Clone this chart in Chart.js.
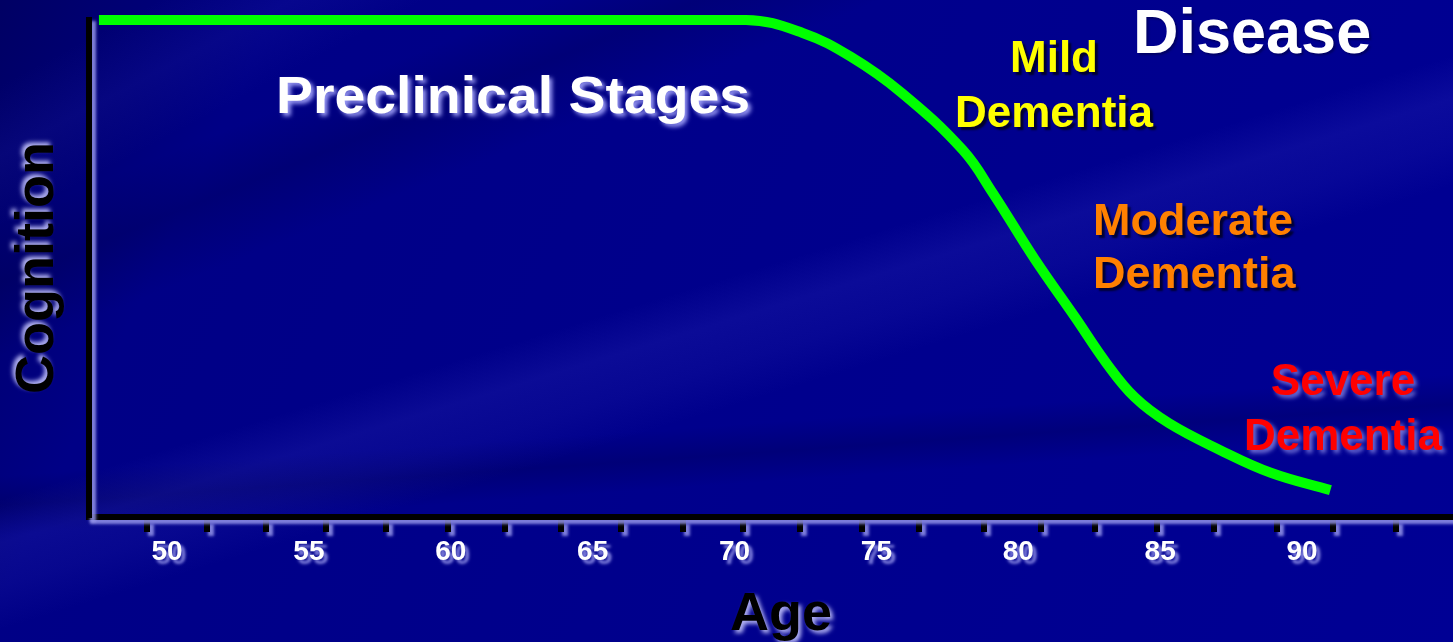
<!DOCTYPE html>
<html>
<head>
<meta charset="utf-8">
<script src="https://cdn.jsdelivr.net/npm/chart.js@4/dist/chart.umd.min.js"></script>
<style>
  html, body { margin: 0; padding: 0; }
  body {
    width: 1453px; height: 642px; overflow: hidden; position: relative;
    font-family: "Liberation Sans", Arial, sans-serif; font-weight: bold;
    background:
      linear-gradient(163deg, transparent 0%, transparent 46%, rgba(70,70,210,0.16) 50%, rgba(70,70,210,0.10) 54%, transparent 58%),
      linear-gradient(158deg, transparent 0%, transparent 18%, rgba(0,0,40,0.18) 23%, transparent 29%, transparent 100%),
      linear-gradient(176deg, transparent 0%, transparent 64%, rgba(0,0,50,0.22) 68%, transparent 72%),
      linear-gradient(152deg, transparent 0%, transparent 6%, rgba(40,40,180,0.16) 11%, transparent 16%),
      linear-gradient(115deg, #000064 0%, #000086 16%, #00008c 50%, #000094 100%);
  }
  #wrap { position: absolute; left: 0; top: 0; width: 1453px; height: 642px; }
  .lbl { position: absolute; white-space: nowrap; }
  .stack { text-align: center; }
</style>
</head>
<body>
<div id="wrap"><canvas id="chart"></canvas></div>

<div class="lbl" style="left:276px; top:69px; font-size:52px; line-height:52px; color:#fff; transform-origin:0 0; transform:scaleX(1.065); text-shadow:3px 3px 4px rgba(170,170,255,0.9);">Preclinical Stages</div>
<div class="lbl" style="left:1133px; top:0px; font-size:63px; line-height:63px; color:#fff; text-shadow:2px 2px 2px rgba(0,0,60,0.5);">Disease</div>
<div class="lbl stack" style="left:954px; width:200px; top:29px; font-size:44px; line-height:55px; color:#ffff00; text-shadow:3px 3px 2px rgba(0,0,40,0.95);">Mild<br>Dementia</div>
<div class="lbl stack" style="left:1093px; width:200px; top:193px; font-size:45px; line-height:53px; color:#ff8000; text-shadow:3px 3px 2px rgba(0,0,40,0.9);">Moderate<br>Dementia</div>
<div class="lbl stack" style="left:1243px; width:200px; top:352px; font-size:44px; line-height:55px; color:#ff0000; text-shadow:3px 3px 4px rgba(140,140,230,0.8);">Severe<br>Dementia</div>
<div class="lbl stack" style="left:-116px; top:241px; width:300px; height:54px; font-size:54px; line-height:54px; color:#000; transform:rotate(-90deg); text-shadow:3px -3px 4px rgba(200,200,255,0.9);">Cognition</div>
<div class="lbl stack" style="left:631px; width:300px; top:584px; font-size:54px; line-height:54px; color:#000; text-shadow:3px 3px 4px rgba(200,200,255,0.9);">Age</div>

<script>
// ages and cognition
const ages =      [47.6, 70.4, 72.4, 74.1, 75.9, 78.05, 79.1, 80.6, 82.0, 83.1, 84.1, 85.3, 87.1, 88.9, 91.0];
const cognition = [100,  100,  97.4, 92.6, 85.3, 73.8,  65.2, 51.7, 40.2, 31.0, 24.1, 18.9, 13.5, 8.9,  5.4];

const ageLabels = [50, 55, 60, 65, 70, 75, 80, 85, 90];
const minorTickAges = [49.3, 51.4, 53.5, 55.6, 57.7, 59.9, 61.9, 63.9, 66.0, 68.2, 70.3,
                       72.3, 74.5, 76.5, 78.8, 80.8, 82.7, 84.9, 86.9, 89.1, 91.1, 93.3];

const ageMin = 47.25;
const ageMax = 95.32;

const axisShadow = {
  id: 'axisShadow',
  beforeDraw(chart) {
    const ctx = chart.ctx;
    ctx.save();
    ctx.shadowColor = 'rgba(150,150,235,0.85)';
    ctx.shadowOffsetX = 4;
    ctx.shadowOffsetY = 4;
    ctx.shadowBlur = 3;
  },
  beforeDatasetsDraw(chart) {
    chart.ctx.restore();
  }
};

const ctx = document.getElementById('chart').getContext('2d');
new Chart(ctx, {
  type: 'line',
  data: {
    datasets: [{
      data: ages.map((a, i) => ({ x: a, y: cognition[i] })),
      borderColor: '#00ff00',
      borderWidth: 10,
      borderCapStyle: 'butt',
      tension: 0.4,
      pointRadius: 0,
      fill: false,
      clip: false
    }]
  },
  options: {
    responsive: true,
    maintainAspectRatio: false,
    animation: false,
    events: [],
    layout: { padding: { top: 20, left: 0, right: 0, bottom: 0 } },
    plugins: { legend: { display: false }, tooltip: { enabled: false } },
    scales: {
      x2: {
        type: 'linear', position: 'bottom', weight: 0,
        min: ageMin, max: ageMax,
        afterBuildTicks: s => { s.ticks = minorTickAges.map(v => ({ value: v })); },
        afterFit: s => { s.height = 0; },
        ticks: { display: false },
        grid: { drawOnChartArea: false, drawTicks: true, lineWidth: 6, tickLength: 15, tickWidth: 6, tickColor: '#000' },
        border: { display: true, color: '#000', width: 6 }
      },
      x: {
        type: 'linear', position: 'bottom', weight: 1,
        min: ageMin, max: ageMax,
        afterBuildTicks: s => { s.ticks = ageLabels.map(v => ({ value: v })); },
        afterFit: s => { s.height = 125; },
        ticks: {
          color: '#fff', padding: 10,
          font: { family: '"Liberation Sans", Arial, sans-serif', size: 28, weight: 'bold' },
          maxRotation: 0, autoSkip: false
        },
        grid: { display: false },
        border: { display: false }
      },
      y: {
        min: 0, max: 100,
        afterFit: s => { s.width = 89; },
        ticks: { display: false },
        grid: { drawOnChartArea: false, drawTicks: false },
        border: { display: true, color: '#000', width: 6 }
      }
    }
  },
  plugins: [axisShadow]
});
</script>
</body>
</html>
